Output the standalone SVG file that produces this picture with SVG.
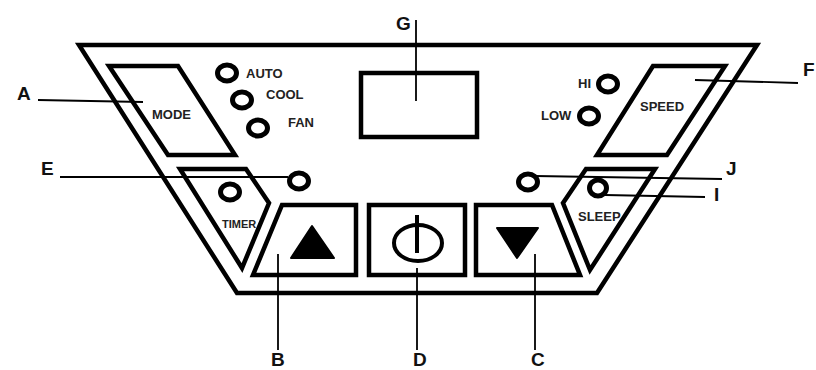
<svg xmlns="http://www.w3.org/2000/svg" width="816" height="370" viewBox="0 0 816 370">
<style>
.s{fill:none;stroke:#000;stroke-width:4.5;stroke-linejoin:miter}
.led{fill:#fff;stroke:#000;stroke-width:5}
.c{fill:none;stroke:#000;stroke-width:1.8}
.l{font-family:"Liberation Sans",Arial,sans-serif;font-weight:bold;font-size:19px;fill:#111}
.t{font-family:"Liberation Sans",Arial,sans-serif;font-weight:bold;font-size:13px;fill:#222}
</style>
<rect width="816" height="370" fill="#fff"/>
<g id="panel"><path class="s" d="M79 45H757L597 293H237Z"/></g>
<g id="mode"><path class="s" d="M109 66H178L235 155H168Z"/><text class="t" x="152" y="119">MODE</text></g>
<g id="timer"><path class="s" d="M180 169H246L269 203L242 268Z"/><text class="t" style="font-size:11px" x="222" y="228">TIMER</text></g>
<g id="up"><path class="s" d="M282 205H356V275H253Z"/><path d="M312 226L334 258H291Z" fill="#000" stroke="#000" stroke-width="2" stroke-linejoin="round"/></g>
<g id="power"><rect class="s" x="369" y="205" width="96" height="70"/><ellipse cx="418" cy="243" rx="24" ry="18" fill="none" stroke="#000" stroke-width="4"/><path d="M417 215V253" stroke="#000" stroke-width="4" fill="none"/></g>
<g id="down"><path class="s" d="M476 205H552L580 275H476Z"/><path d="M497 228H538L517 258Z" fill="#000" stroke="#000" stroke-width="2" stroke-linejoin="round"/></g>
<g id="sleep"><path class="s" d="M586 169H655L590 270L563 203Z"/><text class="t" x="578" y="221">SLEEP</text></g>
<g id="speed"><path class="s" d="M653 66H725L667 155H597Z"/><text class="t" x="640" y="111">SPEED</text></g>
<g id="display"><rect class="s" x="361" y="73" width="116" height="64"/></g>
<g id="led-auto"><ellipse class="led" cx="227" cy="73" rx="9.5" ry="8"/><text class="t" x="246" y="78">AUTO</text></g>
<g id="led-cool"><ellipse class="led" cx="242" cy="100" rx="9.5" ry="8"/><text class="t" x="266" y="99">COOL</text></g>
<g id="led-fan"><ellipse class="led" cx="258" cy="128" rx="9.5" ry="8"/><text class="t" x="288" y="127">FAN</text></g>
<g id="led-e"><ellipse class="led" cx="299" cy="181" rx="9.5" ry="8"/></g>
<g id="led-timer"><ellipse class="led" cx="230" cy="192" rx="9.5" ry="8"/></g>
<g id="led-hi"><ellipse class="led" cx="608" cy="84" rx="9.5" ry="8"/><text class="t" x="578" y="88">HI</text></g>
<g id="led-low"><ellipse class="led" cx="589" cy="116" rx="9.5" ry="8"/><text class="t" x="541" y="120">LOW</text></g>
<g id="led-j"><ellipse class="led" cx="528" cy="182" rx="9.5" ry="8"/></g>
<g id="led-sleep"><ellipse class="led" cx="598" cy="188" rx="8.5" ry="8"/></g>
<g id="connectors">
<path class="c" d="M38 100L143 102"/>
<path class="c" d="M60 177H288"/>
<path class="c" d="M535 176L722 179"/>
<path class="c" d="M605 195L705 197"/>
<path class="c" d="M695 80L798 83"/>
<path class="c" d="M278 254V350"/>
<path class="c" d="M417 268V350"/>
<path class="c" d="M535 254V350"/>
<path class="c" d="M416 20V101"/>
</g>
<g id="labels">
<text class="l" x="17" y="100">A</text>
<text class="l" x="41" y="175">E</text>
<text class="l" x="396" y="30">G</text>
<text class="l" x="803" y="76">F</text>
<text class="l" x="726" y="175">J</text>
<text class="l" x="714" y="201">I</text>
<text class="l" x="271" y="365.5">B</text>
<text class="l" x="413" y="365.5">D</text>
<text class="l" x="531" y="365.5">C</text>
</g>
</svg>
